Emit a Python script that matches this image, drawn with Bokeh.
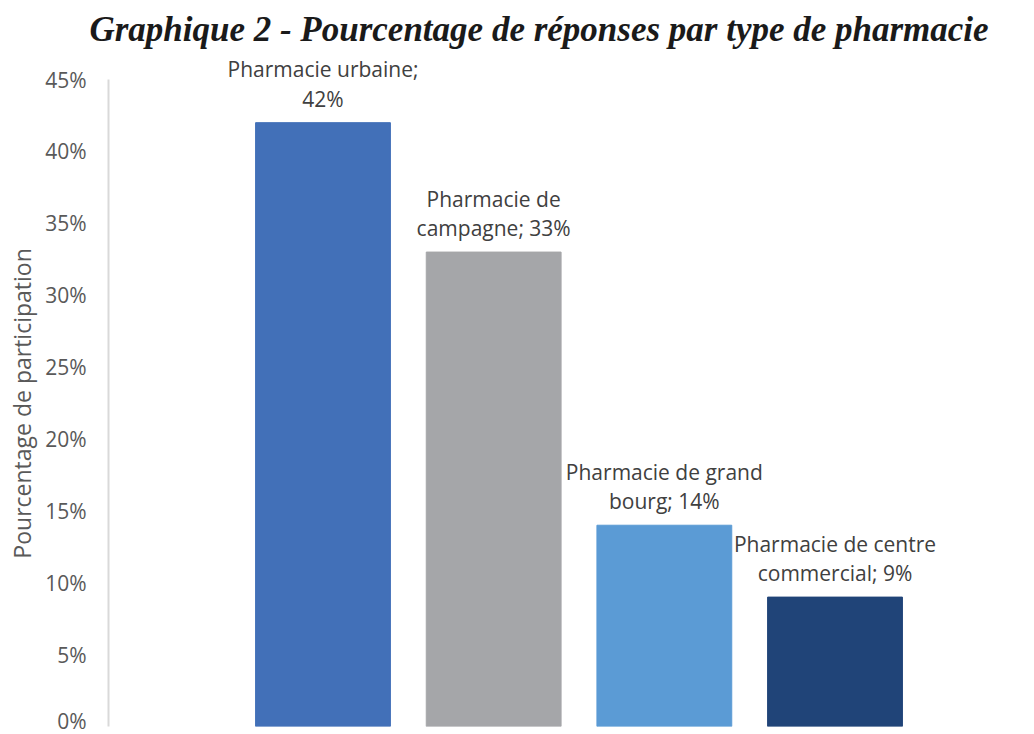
from bokeh.plotting import figure
from bokeh.models import ColumnDataSource, NumeralTickFormatter, FixedTicker, Range1d
from bokeh.core.properties import value
from bokeh.embed import file_html
from bokeh.resources import INLINE

categories = ["Pharmacie urbaine", "Pharmacie de campagne", "Pharmacie de grand bourg", "Pharmacie de centre commercial"]
values = [0.42, 0.33, 0.14, 0.09]
labels = ["Pharmacie urbaine;\n42%", "Pharmacie de\ncampagne; 33%", "Pharmacie de grand\nbourg; 14%", "Pharmacie de centre\ncommercial; 9%"]
colors = ["#4270B8", "#A5A6A9", "#5B9BD5", "#204478"]
y_ticks = [0, 0.05, 0.10, 0.15, 0.20, 0.25, 0.30, 0.35, 0.40, 0.45]
y_title = "Pourcentage de participation"

xs = [i + 1 for i in range(len(categories))]
src = ColumnDataSource(dict(x=xs, top=values, label=labels, color=colors, cat=categories))

p = figure(width=1018, height=734, output_backend="svg", toolbar_location=None,
           x_range=Range1d(-0.2568, 4.788), y_range=Range1d(0, 0.4702),
           min_border_left=108, min_border_right=49, min_border_top=50, min_border_bottom=8,
           title="Graphique 2 - Pourcentage de réponses par type de pharmacie")

p.vbar(x="x", top="top", bottom=0, width=0.79, color="color", source=src)
p.text(x="x", y="top", text="label", source=src, text_align="center", text_baseline="bottom",
       y_offset=-10, text_font=value("Open Sans"), text_font_size="21px", text_color="#404040",
       text_line_height=1.05)

p.title.text_font = "Liberation Serif"
p.title.text_font_style = "bold italic"
p.title.text_font_size = "35px"
p.title.text_color = "#1a1a1a"
p.title.align = "center"
p.title.standoff = 4

p.xaxis.visible = False
p.xgrid.visible = False
p.ygrid.visible = False
p.outline_line_color = None

ax = p.yaxis[0]
ax.ticker = FixedTicker(ticks=y_ticks)
ax.bounds = (0, 0.45)
ax.formatter = NumeralTickFormatter(format="0%")
ax.major_tick_line_color = None
ax.minor_tick_line_color = None
ax.major_tick_in = 0
ax.major_tick_out = 0
ax.major_label_standoff = 22
ax.major_label_text_font = "Open Sans"
ax.major_label_text_font_size = "21px"
ax.major_label_text_color = "#595959"
ax.axis_line_color = "#d9d9d9"
ax.axis_line_width = 2
# trailing no-break spaces centre the rotated title on the 0-45% span
ax.axis_label = y_title + "\u00a0" * 5
ax.axis_label_text_font = "Open Sans"
ax.axis_label_text_font_size = "23px"
ax.axis_label_text_font_style = "normal"
ax.axis_label_text_color = "#595959"
ax.axis_label_standoff = 4

open("out.html", "w").write(file_html(p, INLINE))
